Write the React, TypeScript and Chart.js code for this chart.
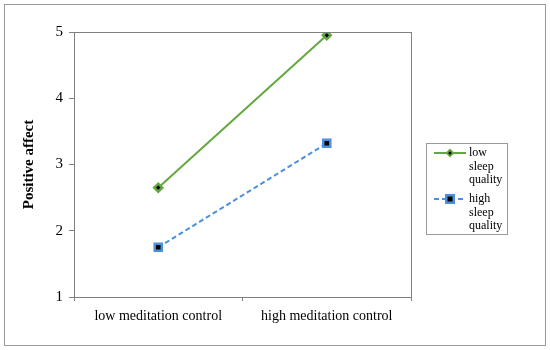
import React, { useEffect, useRef } from "react";
import { Chart, registerables } from "chart.js";

Chart.register(...registerables);

const categories = ["low meditation control", "high meditation control"];
const lowSleepQuality = [2.65, 4.95];
const highSleepQuality = [1.75, 3.32];
const seriesNames = [["low", "sleep", "quality"], ["high", "sleep", "quality"]];
const yTicks = [1, 2, 3, 4, 5];

const GREEN = "#62a83f";
const BLUE = "#4a90dc";
const FONT = "'Liberation Serif', 'Times New Roman', serif";

const framePlugin = {
  id: "frame",
  beforeDraw(chart: any) {
    const { ctx, width, height } = chart;
    ctx.save();
    ctx.fillStyle = "#ffffff";
    ctx.fillRect(0, 0, width, height);
    ctx.strokeStyle = "#9a9a9a";
    ctx.lineWidth = 1;
    ctx.strokeRect(4.5, 4.5, width - 9, height - 9);
    ctx.restore();
  },
  afterDatasetsDraw(chart: any) {
    const { ctx, chartArea } = chart;
    ctx.save();
    ctx.strokeStyle = "#808080";
    ctx.lineWidth = 1;
    ctx.strokeRect(
      Math.round(chartArea.left) + 0.5,
      Math.round(chartArea.top) + 0.5,
      Math.round(chartArea.right - chartArea.left),
      Math.round(chartArea.bottom - chartArea.top)
    );
    ctx.restore();
  },
};

const legendPlugin = {
  id: "customLegend",
  afterDraw(chart: any) {
    const { ctx } = chart;
    const x0 = 426, y0 = 143, w = 81, h = 91;
    ctx.save();
    ctx.strokeStyle = "#9a9a9a";
    ctx.lineWidth = 1;
    ctx.strokeRect(x0 + 0.5, y0 + 0.5, w, h);
    ctx.font = `12px ${FONT}`;
    ctx.textBaseline = "middle";
    ctx.textAlign = "left";
    chart.data.datasets.forEach((ds: any, i: number) => {
      const yl = y0 + 10 + i * 46;
      ctx.strokeStyle = ds.borderColor;
      ctx.lineWidth = 2;
      ctx.setLineDash(ds.borderDash || []);
      ctx.beginPath();
      ctx.moveTo(x0 + 8, yl);
      ctx.lineTo(x0 + 40, yl);
      ctx.stroke();
      ctx.setLineDash([]);
      const cx = x0 + 24;
      if (ds.pointStyle === "rect") {
        ctx.fillStyle = ds.pointBorderColor;
        ctx.fillRect(cx - 5, yl - 5, 10, 10);
        ctx.fillStyle = "#000";
        ctx.fillRect(cx - 2.5, yl - 2.5, 5, 5);
      } else {
        ctx.fillStyle = ds.pointBorderColor;
        ctx.beginPath();
        ctx.moveTo(cx, yl - 4.5);
        ctx.lineTo(cx + 4.5, yl);
        ctx.lineTo(cx, yl + 4.5);
        ctx.lineTo(cx - 4.5, yl);
        ctx.closePath();
        ctx.fill();
        ctx.fillStyle = "#000";
        ctx.beginPath();
        ctx.arc(cx, yl, 1.5, 0, Math.PI * 2);
        ctx.fill();
      }
      ctx.fillStyle = "#000";
      seriesNames[i].forEach((t, j) => {
        ctx.fillText(t, x0 + 43, yl + j * 13.5);
      });
    });
    ctx.restore();
  },
};

export default function App() {
  const ref = useRef<HTMLCanvasElement>(null);
  useEffect(() => {
    document.body.style.margin = "0";
    const chart = new Chart(ref.current as HTMLCanvasElement, {
      type: "line",
      data: {
        labels: categories,
        datasets: [
          {
            label: seriesNames[0].join(" "),
            data: lowSleepQuality,
            borderColor: GREEN,
            borderWidth: 2,
            pointStyle: "rectRot",
            pointRadius: 4,
            pointBackgroundColor: "#000",
            pointBorderColor: GREEN,
            pointBorderWidth: 2.5,
          },
          {
            label: seriesNames[1].join(" "),
            data: highSleepQuality,
            borderColor: BLUE,
            borderWidth: 2,
            borderDash: [5, 3],
            pointStyle: "rect",
            pointRadius: 5,
            pointBackgroundColor: "#000",
            pointBorderColor: BLUE,
            pointBorderWidth: 2.5,
          },
        ],
      },
      options: {
        responsive: false,
        animation: false,
        layout: { padding: { left: 0, right: 139, top: 32, bottom: 0 } },
        plugins: { legend: { display: false }, tooltip: { enabled: false } },
        scales: {
          x: {
            type: "category",
            offset: true,
            grid: { display: true, offset: true, drawOnChartArea: false, drawTicks: true, tickLength: 4, color: "#808080" },
            border: { display: true, color: "#808080" },
            ticks: { color: "#000", font: { family: FONT, size: 14 }, padding: 7, maxRotation: 0 },
            afterFit(scale: any) { scale.height = 53; },
          },
          y: {
            min: 1,
            max: 5,
            afterBuildTicks(scale: any) { scale.ticks = yTicks.map((v) => ({ value: v })); },
            grid: { display: true, drawOnChartArea: false, drawTicks: true, tickLength: 5, color: "#808080" },
            border: { display: true, color: "#808080" },
            ticks: { color: "#000", font: { family: FONT, size: 15 }, padding: 6 },
            title: { display: true, text: "Positive affect", color: "#000", font: { family: FONT, size: 15, weight: "bold" }, padding: { top: 20, bottom: 0 } },
            afterFit(scale: any) { scale.width = 74; },
          },
        },
      },
      plugins: [framePlugin, legendPlugin],
    } as any);
    return () => chart.destroy();
  }, []);
  return <canvas ref={ref} width={550} height={350} style={{ display: "block" }} />;
}
